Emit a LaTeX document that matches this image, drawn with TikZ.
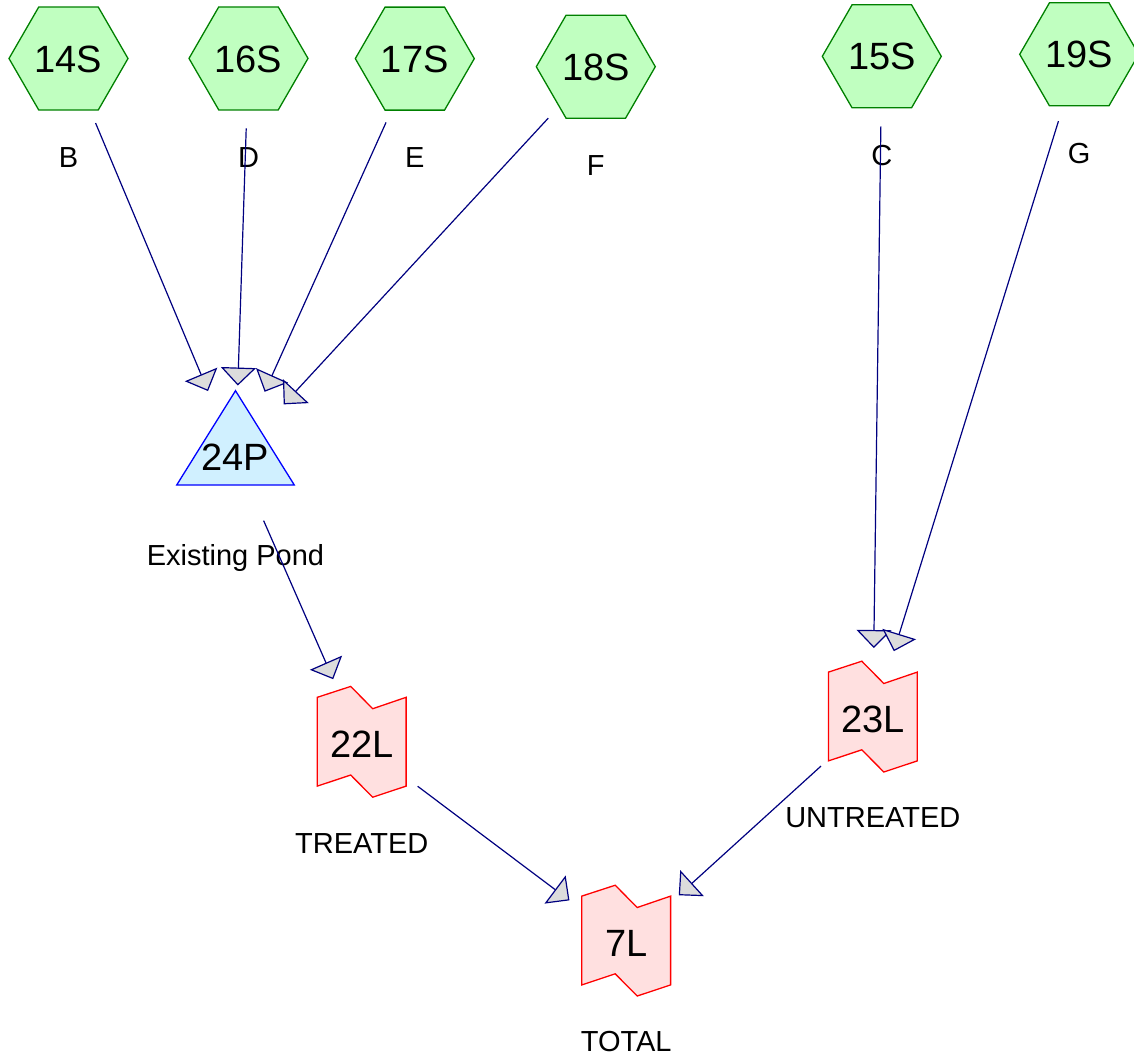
\documentclass[tikz,border=0pt]{standalone}
\usepackage{fontspec}
\setmainfont{Liberation Sans}
\usetikzlibrary{arrows.meta}
\definecolor{hexfill}{HTML}{C0FFC0}
\definecolor{hexdraw}{HTML}{008000}
\definecolor{pondfill}{HTML}{D0F0FF}
\definecolor{ponddraw}{HTML}{0000FF}
\definecolor{lfill}{HTML}{FFE0E0}
\definecolor{ldraw}{HTML}{FF0000}
\definecolor{edgecol}{HTML}{000080}
\definecolor{tipfill}{HTML}{DCDCDC}
\newcommand\hexsrc[5]{% name x y text label
  \draw[hexshape] (#2,#3) +(-59.5,0) -- +(-29.75,-51.5) -- +(29.75,-51.5) -- +(59.5,0) -- +(29.75,51.5) -- +(-29.75,51.5) -- cycle;
  \node[numtxt] (#1) at (#2,#3) {#4};
  \node[lbltxt] (#1lbl) at (#2,#3+98.5) {#5};}
\newcommand\linksink[5]{% name x y text label
  \draw[lshape] (#2,#3-2.5) +(-44.4,-44.4) -- +(-11,-55.3) -- +(11,-33) -- +(44.4,-44.4) -- +(44.4,44.4) -- +(11,55.5) -- +(-11,33.3) -- +(-44.4,44.4) -- cycle;
  \node[numtxt] (#1) at (#2,#3) {#4};
  \node[lbltxt] (#1lbl) at (#2,#3+98.5) {#5};}
\begin{document}
\begin{tikzpicture}[x=0.5pt,y=-0.5pt,
  numtxt/.style={inner sep=0pt, font=\fontsize{19pt}{19pt}\selectfont, text height=13.6pt, text depth=0pt},
  lbltxt/.style={inner sep=0pt, font=\fontsize{14.5pt}{14.5pt}\selectfont, text height=10.4pt, text depth=0pt},
  hexshape/.style={draw=hexdraw, fill=hexfill, line width=0.65pt, line join=miter},
  pondshape/.style={draw=ponddraw, fill=pondfill, line width=0.65pt, line join=miter},
  lshape/.style={draw=ldraw, fill=lfill, line width=0.65pt, line join=miter},
  flowedge/.style={draw=edgecol, line width=0.6pt, shorten <=35pt, shorten >=35.5pt,
    -{Triangle[length=9pt,width=17.5pt,fill=tipfill]}}]
\useasboundingbox (0,0) rectangle (1134,1057);
\hexsrc{n14S}{68.5}{58.5}{14S}{B}
\hexsrc{n16S}{248.5}{58.4}{16S}{D}
\hexsrc{n17S}{414.8}{58.6}{17S}{E}
\hexsrc{n18S}{595.8}{66.7}{18S}{F}
\hexsrc{n15S}{881.8}{56.3}{15S}{C}
\hexsrc{n19S}{1079.2}{54.3}{19S}{G}
% pond
\draw[pondshape] (235.5,456.5) +(0,-65.8) -- +(58.8,28.5) -- +(-58.8,28.5) -- cycle;
\node[numtxt] (n24P) at (235.5,456.5) {24P};
\node[lbltxt] (n24Plbl) at (235.5,555.5) {Existing Pond};
\linksink{n22L}{361.7}{744.2}{22L}{TREATED}
\linksink{n23L}{872.8}{719}{23L}{UNTREATED}
\linksink{n7L}{626.2}{943}{7L}{TOTAL}
% flows
\draw[flowedge] (n14S.center) -- (n24P.center);
\draw[flowedge] (n16S.center) -- (n24P.center);
\draw[flowedge] (n17S.center) -- (n24P.center);
\draw[flowedge] (n18S.center) -- (n24P.center);
\draw[flowedge] (n24P.center) -- (n22L.center);
\draw[flowedge] (n15S.center) -- (n23L.center);
\draw[flowedge] (n19S.center) -- (n23L.center);
\draw[flowedge] (n22L.center) -- (n7L.center);
\draw[flowedge] (n23L.center) -- (n7L.center);
\end{tikzpicture}
\end{document}
